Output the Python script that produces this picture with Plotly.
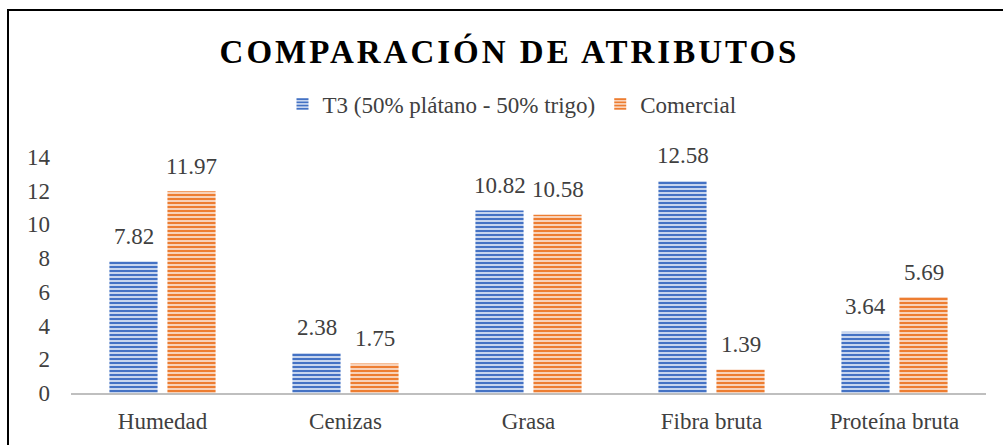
import plotly.graph_objects as go

categories = ["Humedad", "Cenizas", "Grasa", "Fibra bruta", "Proteína bruta"]
t3_values = [7.82, 2.38, 10.82, 12.58, 3.64]
comercial_values = [11.97, 1.75, 10.58, 1.39, 5.69]
series_names = ["T3 (50% plátano - 50% trigo)", "Comercial"]
y_ticks = [0, 2, 4, 6, 8, 10, 12, 14]

W, H = 1003, 445
ml, mr, mt, mb = 71, 17, 157, 52
pw, ph = W - ml - mr, H - mt - mb

font_fam = "Liberation Serif"
grey = "#404040"

fig = go.Figure()
fig.add_trace(go.Bar(
    x=categories, y=t3_values, name=series_names[0],
    marker=dict(color="#4472C4", line=dict(width=0),
                pattern=dict(shape="-", fgcolor="#4472C4", bgcolor="#D6E0F3",
                             size=4, solidity=0.55, fillmode="replace")),
))
fig.add_trace(go.Bar(
    x=categories, y=comercial_values, name=series_names[1],
    marker=dict(color="#ED7D31", line=dict(width=0),
                pattern=dict(shape="-", fgcolor="#ED7D31", bgcolor="#FADCC8",
                             size=4, solidity=0.55, fillmode="replace")),
))

# value labels above bars
for vals, dx in ((t3_values, -29), (comercial_values, 29)):
    for c, v in zip(categories, vals):
        fig.add_annotation(x=c, y=v, text=f"{v:.2f}", showarrow=False,
                           xshift=dx, yshift=25, yanchor="middle",
                           font=dict(size=23, color=grey, family=font_fam))

# outer border (extends past right/bottom edges)
fig.add_shape(type="rect", xref="paper", yref="paper",
              x0=(8 - ml) / pw, x1=(W + 20 - ml) / pw,
              y0=-(H + 20 - (mt + ph)) / ph, y1=(mt + ph - 10) / ph,
              line=dict(color="black", width=2), fillcolor="rgba(0,0,0,0)", layer="below")

fig.update_layout(
    width=W, height=H,
    margin=dict(l=ml, r=mr, t=mt, b=mb),
    paper_bgcolor="white", plot_bgcolor="white",
    barmode="group", bargap=0.366, bargroupgap=0.17,
    title=dict(text='<span style="letter-spacing:3px"><b>COMPARACIÓN DE ATRIBUTOS</b></span>',
               x=0.508, xanchor="center",
               y=1 - 51 / H, yanchor="middle",
               font=dict(size=33, color="black", family=font_fam)),
    legend=dict(orientation="h", x=(512 - ml) / pw, xanchor="center",
                y=(mt + ph - 104) / ph, yanchor="middle",
                font=dict(size=23, color=grey, family=font_fam),
                itemwidth=30, bgcolor="rgba(0,0,0,0)"),
    xaxis=dict(showline=True, linecolor="#BFBFBF", linewidth=2, ticks="",
               ticklabelstandoff=6,
               tickfont=dict(size=23, color=grey, family=font_fam), showgrid=False),
    yaxis=dict(range=[0, 14], tickvals=y_ticks, showgrid=False, zeroline=False,
               showline=False, ticks="", ticklabelstandoff=20,
               tickfont=dict(size=23, color=grey, family=font_fam)),
    showlegend=True,
)

fig.write_html("out.html", config={"displayModeBar": False},
               post_script="document.body.style.margin='0';")
